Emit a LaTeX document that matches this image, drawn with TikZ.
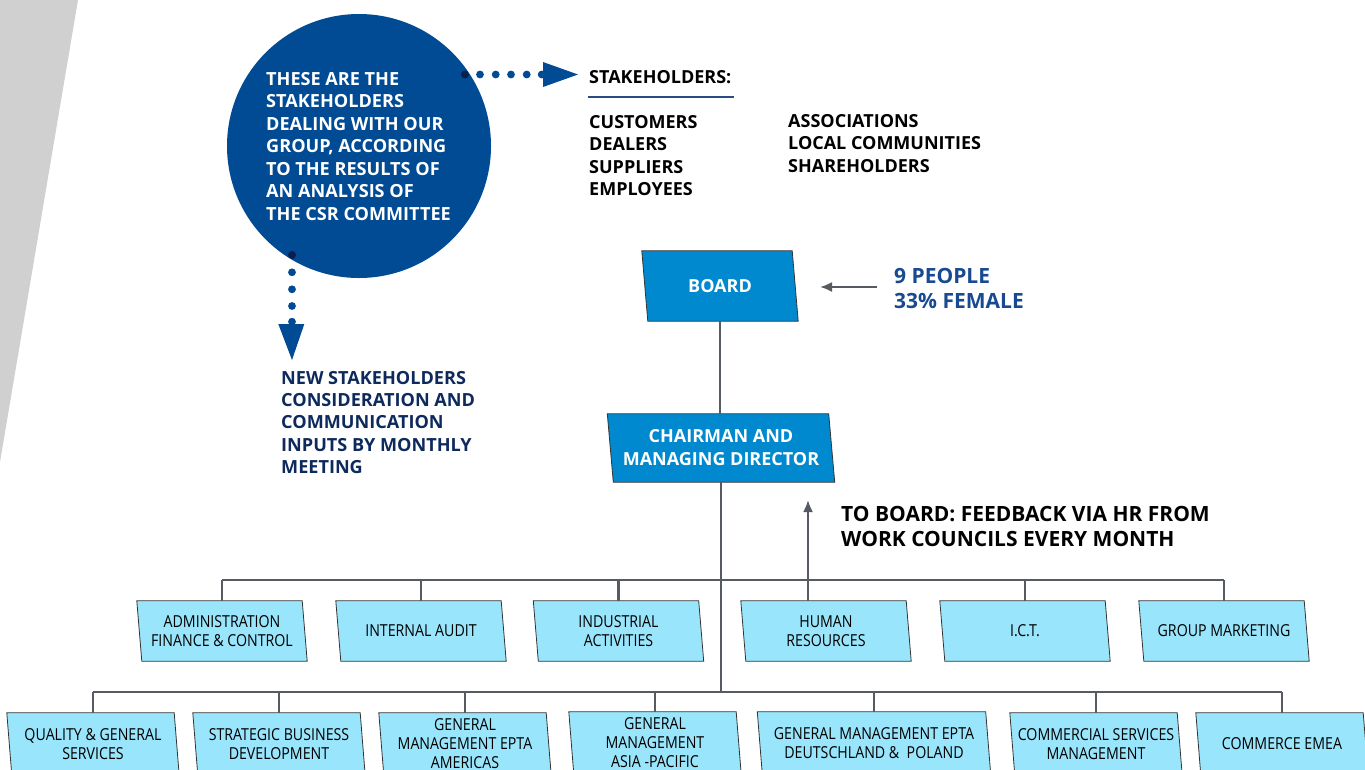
\documentclass[tikz,border=0pt]{standalone}
\usepackage{fontspec}
\setmainfont{Open Sans}
\newfontfamily\boxfont{Open Sans}[FakeStretch=0.86]
\usetikzlibrary{arrows.meta}
\pgfdeclarelayer{background}
\pgfsetlayers{background,main}
\definecolor{bggray}{RGB}{208,208,208}
\definecolor{circblue}{RGB}{0,75,148}
\definecolor{dotnavy}{RGB}{10,30,80}
\definecolor{navytext}{RGB}{14,42,92}
\definecolor{peopleblue}{RGB}{24,74,146}
\definecolor{boardblue}{RGB}{0,137,206}
\definecolor{lightbox}{RGB}{153,229,252}
\definecolor{linegray}{RGB}{85,91,96}
\definecolor{ulblue}{RGB}{42,76,131}
\begin{document}
\begin{tikzpicture}[x=1pt,y=-1pt,
  orgline/.style={draw=linegray,line width=2.2pt},
  slantbox/.style={rectangle,align=center,inner sep=0pt},
  darkbox/.style={slantbox,text=white,font=\bfseries\fontsize{18}{23}\selectfont},
  unitbox/.style={slantbox,font=\boxfont\fontsize{16.5}{19}\selectfont,minimum width=165pt,minimum height=60pt},
  lowbox/.style={unitbox,minimum width=167pt,minimum height=62pt},
  darkfill/.style={fill=boardblue,draw=black!80,line width=0.8pt},
  lightfill/.style={fill=lightbox,draw=black!80,line width=0.8pt},
  boldtext/.style={font=\bfseries\fontsize{18}{22.4}\selectfont,align=left,inner sep=0pt,anchor=west},
  bigtext/.style={font=\bfseries\fontsize{21}{25}\selectfont,align=left,inner sep=0pt,anchor=west},
  bluedot/.style={circle,fill=circblue,minimum size=7.8pt,inner sep=0pt},
  navydot/.style={circle,fill=dotnavy,minimum size=8pt,inner sep=0pt}
]
\useasboundingbox (0,0) rectangle (1365,769);
% grey band
\fill[bggray] (0,0) -- (78,0) -- (0,462) -- cycle;

% CSR circle
\node[circle,fill=circblue,minimum size=264pt,inner sep=0pt] (csr) at (359,146) {};
\node[boldtext,text=white,font=\bfseries\fontsize{18.1}{22.5}\selectfont] (csrtext) at (266,146.5)
  {THESE ARE THE\\STAKEHOLDERS\\DEALING WITH OUR\\GROUP, ACCORDING\\TO THE RESULTS OF\\AN ANALYSIS OF\\THE CSR COMMITTEE};

% stakeholders
\node[boldtext] (sh) at (589,77) {STAKEHOLDERS:};
\draw[ulblue,line width=2pt] (588,97) -- (734,97);
\node[boldtext] (shl) at (589,155.5) {CUSTOMERS\\DEALERS\\SUPPLIERS\\EMPLOYEES};
\node[boldtext] (shr) at (788,143.5) {ASSOCIATIONS\\LOCAL COMMUNITIES\\SHAREHOLDERS};

% dotted arrow right
\node[navydot] (r0) at (465,74.5) {};
\foreach \x in {480,495.7,511,526.7,541.7} \node[bluedot] at (\x,74.5) {};
\fill[circblue] (543,62) -- (578,74.5) -- (543,87) -- cycle;

% dotted arrow down
\node[navydot] (d0) at (292,255) {};
\foreach \y in {272.3,289.3,306,321.7} \node[bluedot] at (292,\y) {};
\fill[circblue] (278.3,324) -- (304.3,324) -- (292,360) -- cycle;
\node[boldtext,text=navytext,font=\bfseries\fontsize{18.1}{22.3}\selectfont] (newsh) at (281,422.5)
  {NEW STAKEHOLDERS\\CONSIDERATION AND\\COMMUNICATION\\INPUTS BY MONTHLY\\MEETING};

% board and chairman
\node[darkbox,minimum width=150pt,minimum height=70pt] (board) at (720,286) {BOARD};
\node[darkbox,minimum width=221pt,minimum height=68pt] (chair) at (721,448) {CHAIRMAN AND\\MANAGING DIRECTOR};
\draw[orgline] (board.south) -- (board.south |- chair.north);

% board info
\coordinate (pa1) at (877,287);
\coordinate (pa2) at (820,287);
\draw[orgline,line width=2pt,-{Latex[length=12pt,width=10pt]}] (pa1) -- (pa2);
\node[bigtext,text=peopleblue] (people) at (894,288.5) {9 PEOPLE\\33\% FEMALE};

% upper row
\node[unitbox] (admin) at (222,631) {ADMINISTRATION\\FINANCE \& CONTROL};
\node[unitbox] (audit) at (421,631) {INTERNAL AUDIT};
\node[unitbox] (indus) at (618.5,631) {INDUSTRIAL\\ACTIVITIES};
\node[unitbox] (hr) at (826,631) {HUMAN\\RESOURCES};
\node[unitbox] (ict) at (1025,631) {I.C.T.};
\node[unitbox] (gmkt) at (1224,631) {GROUP MARKETING};

% lower row
\node[lowbox] (qual) at (93,744) {QUALITY \& GENERAL\\SERVICES};
\node[lowbox] (strat) at (279,744) {STRATEGIC BUSINESS\\DEVELOPMENT};
\node[lowbox] (amer) at (465,744) {GENERAL\\MANAGEMENT EPTA\\AMERICAS};
\node[lowbox] (asia) at (655,743) {GENERAL\\MANAGEMENT\\ASIA -PACIFIC};
\node[lowbox,minimum width=228pt] (deut) at (874,743) {GENERAL MANAGEMENT EPTA\\DEUTSCHLAND \&\ \ POLAND};
\node[lowbox] (comm) at (1096,744) {COMMERCIAL SERVICES\\MANAGEMENT};
\node[lowbox] (emea) at (1282,744) {COMMERCE EMEA};

% slanted box outlines behind the texts
\begin{pgfonlayer}{background}
\foreach \n in {board,chair}
  \filldraw[darkfill] ([xshift=-3pt]\n.north west) -- ([xshift=-3pt]\n.north east)
    -- ([xshift=3pt]\n.south east) -- ([xshift=3pt]\n.south west) -- cycle;
\foreach \n in {admin,audit,indus,hr,ict,gmkt,qual,strat,amer,asia,deut,comm,emea}
  \filldraw[lightfill] ([xshift=-2.5pt]\n.north west) -- ([xshift=-2.5pt]\n.north east)
    -- ([xshift=2.5pt]\n.south east) -- ([xshift=2.5pt]\n.south west) -- cycle;
\end{pgfonlayer}

% buses
\coordinate (ub) at (723,580);
\coordinate (lb) at (723,692);
\draw[orgline] (chair.south) -- (chair.south |- lb);
\draw[orgline] (admin.center |- ub) -- (gmkt.center |- ub);
\draw[orgline] (qual.center |- lb) -- (emea.center |- lb);
\foreach \n in {admin,audit,indus,ict,gmkt}
  \draw[orgline] (\n.center |- ub) -- (\n.north);
\foreach \n in {qual,strat,amer,asia,deut,comm,emea}
  \draw[orgline] (\n.center |- lb) -- (\n.north);

% feedback arrow
\coordinate (fb) at (808,500);
\draw[orgline,-{Latex[length=12pt,width=10pt]}] (hr.north -| fb) -- (fb);
\node[bigtext] (fbtext) at (841,526.5)
  {TO BOARD: FEEDBACK VIA HR FROM\\WORK COUNCILS EVERY MONTH};
\end{tikzpicture}
\end{document}
